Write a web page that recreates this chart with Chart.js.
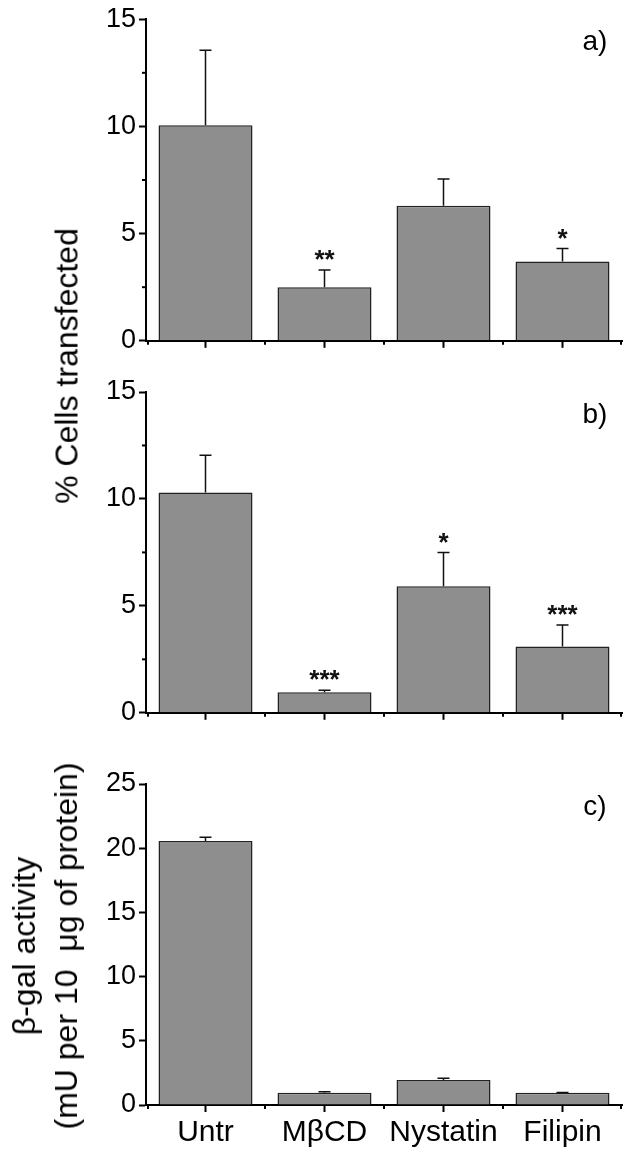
<!DOCTYPE html>
<html>
<head>
<meta charset="utf-8">
<script src="https://cdn.jsdelivr.net/npm/chart.js@4.4.1/dist/chart.umd.min.js"></script>
<style>
  html, body { margin: 0; padding: 0; background: #fff; }
  #wrap { position: relative; width: 629px; height: 1153px; overflow: hidden;
          font-family: 'Liberation Sans', Arial, Helvetica, sans-serif; color: #000; }
  .panel { position: absolute; left: 0; width: 629px; }
  .ytitle { position: absolute; white-space: nowrap; text-align: center;
            transform: translate(-50%, -50%) rotate(-90deg); }
</style>
</head>
<body>
<div id="wrap">
  <div class="panel" style="top:0;height:360px"><canvas id="chart-a"></canvas></div>
  <div class="panel" style="top:370px;height:362px"><canvas id="chart-b"></canvas></div>
  <div class="panel" style="top:760px;height:393px"><canvas id="chart-c"></canvas></div>
  <div class="ytitle" style="left:67px;top:366px;font-size:32px">% Cells transfected</div>
  <div class="ytitle" style="left:45px;top:946px;font-size:32px;line-height:42px">β-gal activity<br>(mU per 10&nbsp; μg of protein)</div>
</div>

<script>
// ---- data ----
const categories = ['Untr', 'MβCD', 'Nystatin', 'Filipin'];

// a) % cells transfected
const valuesA = [10.05, 2.5, 6.3, 3.7];
const sdA     = [3.5, 0.8, 1.25, 0.6];
const starsA  = ['', '**', '', '*'];

// b) % cells transfected
const valuesB = [10.3, 0.96, 5.92, 3.1];
const sdB     = [1.74, 0.1, 1.57, 1.0];
const starsB  = ['', '***', '*', '***'];

// c) beta-gal activity
const valuesC = [20.56, 0.96, 1.95, 0.95];
const sdC     = [0.3, 0.08, 0.13, 0.03];
const starsC  = ['', '', '', ''];

const FONT = "'Liberation Sans', Arial, Helvetica, sans-serif";
Chart.defaults.font.family = FONT;
Chart.defaults.color = '#000';

// error bars, significance stars, minor ticks and panel tag
const panelExtras = {
  id: 'panelExtras',
  afterDatasetsDraw(chart, args, opts) {
    const ctx = chart.ctx;
    const xs = chart.scales.x, ys = chart.scales.y;
    const area = chart.chartArea;
    const meta = chart.getDatasetMeta(0);
    ctx.save();
    ctx.strokeStyle = '#111';
    ctx.fillStyle = '#111';
    ctx.lineWidth = 1.5;
    meta.data.forEach((bar, i) => {
      const x = bar.x;
      const yb = ys.getPixelForValue(opts.values[i]);
      const ye = ys.getPixelForValue(opts.values[i] + opts.sd[i]);
      ctx.beginPath();
      ctx.moveTo(x, yb); ctx.lineTo(x, ye);
      ctx.moveTo(x - 6, ye); ctx.lineTo(x + 6, ye);
      ctx.stroke();
      if (opts.stars[i]) {
        ctx.font = 'bold 26px ' + FONT;
        ctx.textAlign = 'center';
        ctx.textBaseline = 'alphabetic';
        ctx.fillText(opts.stars[i], x, ye - 2);
      }
    });

    // minor ticks
    ctx.strokeStyle = '#000';
    ctx.lineWidth = 2;
    ys.ticks.forEach(t => {
      if (t.value % 5 !== 0) {
        const y = ys.getPixelForValue(t.value);
        ctx.beginPath(); ctx.moveTo(area.left - 4, y); ctx.lineTo(area.left, y); ctx.stroke();
      }
    });
    const n = categories.length;
    for (let i = 0; i <= n; i++) {
      let x;
      if (i === 0) x = xs.left + 2;
      else if (i === n) x = xs.right - 1;
      else x = (xs.getPixelForValue(i - 1) + xs.getPixelForValue(i)) / 2;
      ctx.beginPath(); ctx.moveTo(x, area.bottom); ctx.lineTo(x, area.bottom + 4); ctx.stroke();
    }

    // panel tag
    ctx.font = '28px ' + FONT;
    ctx.fillStyle = '#000';
    ctx.textAlign = 'center';
    ctx.textBaseline = 'middle';
    ctx.fillText(opts.tag, area.right - 27, area.top + 23);
    ctx.restore();
  }
};

function makePanel(id, values, sd, stars, yMax, tag, showLabels, padTop, xHeight) {
  const canvas = document.getElementById(id);
  return new Chart(canvas, {
    type: 'bar',
    data: {
      labels: categories,
      datasets: [{
        data: values,
        backgroundColor: '#8e8e8e',
        borderColor: '#222',
        borderWidth: 1.5,
        barPercentage: 0.79,
        categoryPercentage: 1.0,
      }]
    },
    options: {
      responsive: true,
      maintainAspectRatio: false,
      animation: false,
      layout: { padding: { top: padTop, right: 7, bottom: 0, left: 0 } },
      plugins: {
        legend: { display: false },
        tooltip: { enabled: false },
        panelExtras: { values, sd, stars, tag },
      },
      scales: {
        x: {
          offset: true,
          grid: { display: true, drawOnChartArea: false, drawTicks: true, tickLength: 7,
                  tickWidth: 2, tickColor: '#000', offset: false },
          border: { display: true, color: '#000', width: 2 },
          ticks: { display: showLabels, color: '#000', font: { size: 30 }, padding: 3,
                   maxRotation: 0, autoSkip: false },
          afterFit: s => { s.height = xHeight; },
        },
        y: {
          min: 0,
          max: yMax,
          grid: { drawOnChartArea: false, drawTicks: true, tickLength: 7, tickWidth: 2,
                  tickColor: c => (c.tick && c.tick.value % 5 === 0) ? '#000' : 'rgba(0,0,0,0)' },
          border: { display: true, color: '#000', width: 2 },
          ticks: { stepSize: 2.5, color: '#000', font: { size: 27 }, padding: 3,
                   callback: v => (v % 5 === 0 ? v : '') },
          afterFit: s => { s.width = 146; },
        }
      }
    },
    plugins: [panelExtras]
  });
}

makePanel('chart-a', valuesA, sdA, starsA, 15, 'a)', false, 19, 19);
makePanel('chart-b', valuesB, sdB, starsB, 15, 'b)', false, 22, 19);
makePanel('chart-c', valuesC, sdC, starsC, 25, 'c)', true, 24, 48);
</script>
</body>
</html>
